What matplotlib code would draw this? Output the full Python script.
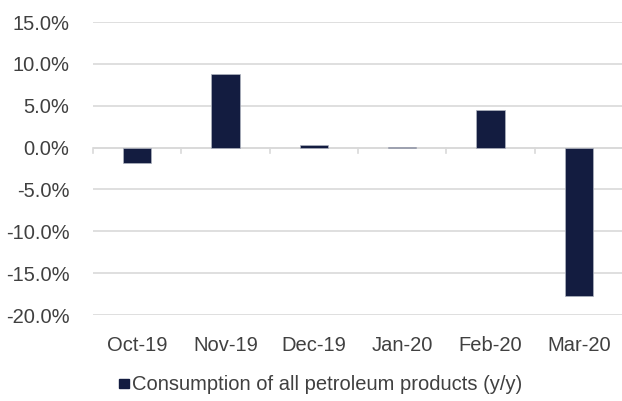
import matplotlib.pyplot as plt
from matplotlib.ticker import FuncFormatter
from matplotlib.patches import Patch

months = ["Oct-19", "Nov-19", "Dec-19", "Jan-20", "Feb-20", "Mar-20"]
consumption = [-1.9, 8.8, 0.3, 0.05, 4.5, -17.7]
yticks = [-20, -15, -10, -5, 0, 5, 10, 15]

bar_color = "#131c40"
text_color = "#404040"
grid_color = "#d9d9d9"

plt.rcParams["font.family"] = ["Liberation Sans", "DejaVu Sans"]

fig = plt.figure(figsize=(6.22, 4.01), dpi=100)
ax = fig.add_axes([93 / 622, 1 - 315 / 401, 530 / 622, (315 - 22) / 401])

x = list(range(len(months)))
ax.bar(x, consumption, width=0.32, color=bar_color, edgecolor="#b0b4c0",
       linewidth=0.5, zorder=3)

ax.set_xlim(-0.5, len(months) - 0.5)
ax.set_ylim(-20, 15)
ax.set_yticks(yticks)
ax.yaxis.set_major_formatter(FuncFormatter(lambda v, p: f"{v:.1f}%"))
ax.grid(axis="y", color=grid_color, linewidth=1.2, zorder=0)
ax.axhline(0, color=grid_color, linewidth=1.2, zorder=2)

# category boundary ticks hanging from the zero line
for b in [i - 0.5 for i in range(len(months) + 1)]:
    ax.plot([b, b], [0, -0.6], color=grid_color, linewidth=1.2, zorder=2,
            clip_on=False)

for s in ax.spines.values():
    s.set_visible(False)
ax.tick_params(axis="both", length=0, labelsize=14.5, colors=text_color)
ax.tick_params(axis="y", pad=17)
ax.tick_params(axis="x", pad=15)
ax.set_xticks(x)
ax.set_xticklabels(months)

fig.legend(handles=[Patch(color=bar_color, label="Consumption of all petroleum products (y/y)")],
           loc="center", bbox_to_anchor=(321 / 622, 1 - 385 / 401), frameon=False,
           fontsize=14.5, handlelength=0.5, handleheight=0.35, handletextpad=0.15,
           labelcolor=text_color)

fig.savefig("out.png", dpi=100)
